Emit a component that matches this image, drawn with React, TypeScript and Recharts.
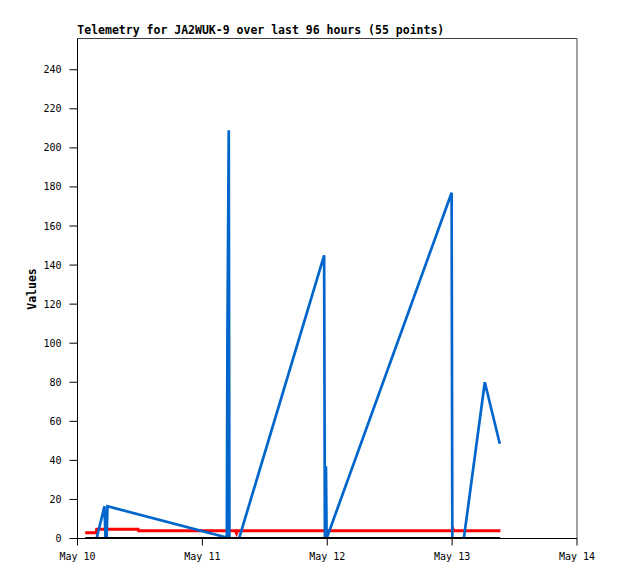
import React from "react";
import { LineChart, Line, XAxis, YAxis, ReferenceLine } from "recharts";

const titleText = "Telemetry for JA2WUK-9 over last 96 hours (55 points)";
const yAxisTitle = "Values";

const xTickHours = [0, 24, 48, 72, 96];
const xTickLabels = ["May 10", "May 11", "May 12", "May 13", "May 14"];
const yTicks = [0, 20, 40, 60, 80, 100, 120, 140, 160, 180, 200, 220, 240];

// hours since May 10 00:00
const blueHours = [3.72, 5.18, 5.38, 5.6, 5.76, 28.7, 28.82, 29.07, 29.2, 31.05, 47.4, 47.55, 47.75, 47.88, 71.9, 72.04, 74.25, 78.28, 81.16];
const blueValues = [0.5, 16.5, 0, 0, 16.5, 0.5, 105, 209, 0, 0, 145, 0, 37, 0, 177, 0, 0, 80, 48.5];

const redHours = [1.48, 3.59, 3.69, 11.65, 11.75, 30.37, 30.57, 30.76, 71.94, 72.13, 72.33, 81.29];
const redValues = [2.9, 2.9, 4.8, 4.8, 4.0, 4.0, 2.7, 4.0, 4.0, 5.1, 4.0, 4.0];

const blackHours = [1.48, 81.25];
const blackValues = [0, 0];

const zip = (h: number[], v: number[]) => h.map((t, i) => ({ t, v: v[i] }));

const blueData = zip(blueHours, blueValues);
const redData = zip(redHours, redValues);
const blackData = zip(blackHours, blackValues);

const FONT = "'DejaVu Sans Mono', 'Liberation Mono', monospace";

export default function App() {
  return (
    <div style={{ position: "relative", width: 600, height: 563 }}>
      <LineChart width={600} height={563} margin={{ top: 30.5, right: 31, bottom: 0, left: 0 }}>
        <XAxis
          dataKey="t"
          type="number"
          domain={[0, 96]}
          ticks={xTickHours}
          allowDataOverflow
          tickFormatter={(v: number) => xTickLabels[xTickHours.indexOf(v)]}
          height={32.5}
          tickSize={7}
          tickMargin={7}
          stroke="#000"
          tick={{ fill: "#000", fontSize: 10, fontFamily: FONT }}
        />
        <YAxis
          type="number"
          domain={[0, 256]}
          ticks={yTicks}
          allowDataOverflow
          width={69.5}
          tickSize={8}
          tickMargin={8}
          stroke="#000"
          tick={{ fill: "#000", fontSize: 10, fontFamily: FONT }}
        />
        <ReferenceLine y={256} stroke="#404040" strokeWidth={1} />
        <ReferenceLine x={96} stroke="#404040" strokeWidth={1} />
        <Line data={redData} dataKey="v" type="linear" stroke="#FF0000" strokeWidth={3} dot={false} isAnimationActive={false} />
        <Line data={blueData} dataKey="v" type="linear" stroke="#0066CC" strokeWidth={2.7} dot={false} isAnimationActive={false} />
        <Line data={blackData} dataKey="v" type="linear" stroke="#000" strokeWidth={3} dot={false} isAnimationActive={false} />
      </LineChart>
      <svg width={600} height={563} style={{ position: "absolute", left: 0, top: 0, pointerEvents: "none" }}>
        <text x={69.3} y={26} fontFamily={FONT} fontWeight="bold" fontSize={11.5} fill="#000">
          {titleText}
        </text>
        <text
          x={23.7}
          y={281}
          fontFamily={FONT}
          fontWeight="bold"
          fontSize={11.5}
          fill="#000"
          textAnchor="middle"
          dominantBaseline="central"
          transform="rotate(-90 23.7 281)"
        >
          {yAxisTitle}
        </text>
      </svg>
    </div>
  );
}
